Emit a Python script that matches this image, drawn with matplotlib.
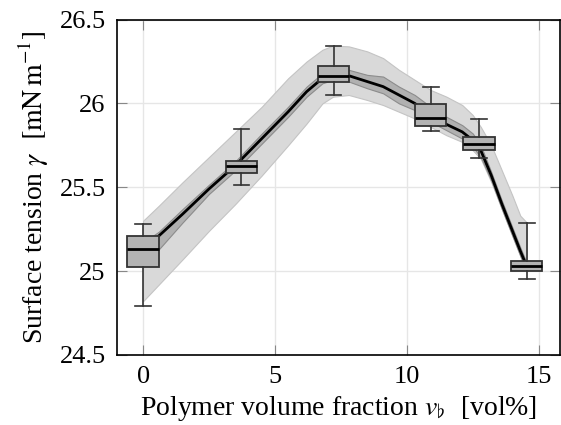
import matplotlib
matplotlib.use("Agg")
import matplotlib.pyplot as plt

plt.rcParams['font.family'] = ['Liberation Serif', 'DejaVu Serif']
plt.rcParams['mathtext.fontset'] = 'stix'

# box statistics
positions = [0.0, 3.73, 7.22, 10.9, 12.74, 14.54]
whislo = [24.79, 25.513, 26.05, 25.835, 25.677, 24.955]
q1 = [25.024, 25.587, 26.127, 25.866, 25.719, 24.998]
med = [25.13, 25.625, 26.164, 25.912, 25.755, 25.03]
q3 = [25.207, 25.659, 26.222, 25.995, 25.80, 25.06]
whishi = [25.28, 25.85, 26.345, 26.097, 25.904, 25.289]

# fitted curve and its bands
fit_x = [0.0, 0.6, 1.5, 2.5, 3.5, 4.5, 5.5, 6.2, 6.8, 7.2, 7.8, 8.5, 9.1, 9.7,
         10.3, 10.9, 11.5, 12.1, 12.5, 12.8, 13.2, 13.6, 14.0, 14.3, 14.54]
fit_y = [25.13, 25.21, 25.34, 25.49, 25.63, 25.79, 25.95, 26.07, 26.15, 26.17, 26.165,
         26.13, 26.10, 26.05, 26.00, 25.93, 25.875, 25.83, 25.78, 25.72,
         25.57, 25.40, 25.24, 25.12, 25.03]
light_hi = [25.30, 25.39, 25.53, 25.68, 25.83, 25.98, 26.15, 26.25, 26.32, 26.345, 26.34,
            26.31, 26.27, 26.20, 26.14, 26.08, 26.04, 25.99, 25.93, 25.86,
            25.75, 25.60, 25.45, 25.33, 25.29]
light_lo = [24.82, 24.92, 25.07, 25.24, 25.40, 25.57, 25.75, 25.88, 26.00, 26.04, 26.05,
            26.02, 25.99, 25.95, 25.91, 25.86, 25.81, 25.77, 25.72, 25.67,
            25.53, 25.37, 25.21, 25.09, 25.00]
dark_hi = [25.17, 25.235, 25.37, 25.515, 25.655, 25.82, 25.98, 26.10, 26.18, 26.20, 26.20,
           26.17, 26.16, 26.10, 26.05, 25.98, 25.92, 25.87, 25.82, 25.75,
           25.59, 25.42, 25.26, 25.14, 25.05]
dark_lo = [25.04, 25.13, 25.29, 25.46, 25.60, 25.76, 25.92, 26.04, 26.12, 26.14, 26.13,
           26.09, 26.06, 26.00, 25.96, 25.89, 25.84, 25.79, 25.74, 25.68,
           25.54, 25.37, 25.21, 25.09, 25.00]

fig = plt.figure(figsize=(5.61, 4.25), dpi=100)
ax = fig.add_axes([0.208, 0.165, 0.79, 0.789])

ax.fill_between(fit_x, light_lo, light_hi, color='#d9d9d9', edgecolor='#c4c4c4',
                linewidth=0.8, zorder=1)
ax.fill_between(fit_x, dark_lo, dark_hi, color='#b0b0b0', edgecolor='#8c8c8c',
                linewidth=0.8, zorder=2)
ax.plot(fit_x, fit_y, color='black', linewidth=2, zorder=3)

stats = []
for i in range(len(positions)):
    stats.append(dict(med=med[i], q1=q1[i], q3=q3[i], whislo=whislo[i],
                      whishi=whishi[i], fliers=[]))
ax.bxp(stats, positions=positions, widths=1.2, patch_artist=True,
       manage_ticks=False, zorder=4,
       boxprops=dict(facecolor='#b3b3b3', edgecolor='#333333', linewidth=1.3),
       medianprops=dict(color='black', linewidth=2),
       whiskerprops=dict(color='#333333', linewidth=1.2),
       capprops=dict(color='#333333', linewidth=1.2))

ax.set_xlim(-1, 15.8)
ax.set_ylim(24.5, 26.5)
ax.set_xticks([0, 5, 10, 15])
ax.set_xticklabels(['0', '5', '10', '15'])
ax.set_yticks([24.5, 25, 25.5, 26, 26.5])
ax.set_yticklabels(['24.5', '25', '25.5', '26', '26.5'])
ax.grid(True, color='#e6e6e6', linewidth=1)
ax.set_axisbelow(True)
ax.tick_params(direction='in', length=7, color='#888888', top=True, right=True,
               labelsize=19, pad=8)
for s in ax.spines.values():
    s.set_linewidth(1.2)

ax.set_xlabel(r'Polymer volume fraction $v_{\flat}$  [vol%]', fontsize=20, labelpad=4)
ax.set_ylabel(r'Surface tension $\gamma$  $\left[\mathrm{mN\,m^{-1}}\right]$',
              fontsize=20, labelpad=6)

fig.savefig('out.png', dpi=100)
